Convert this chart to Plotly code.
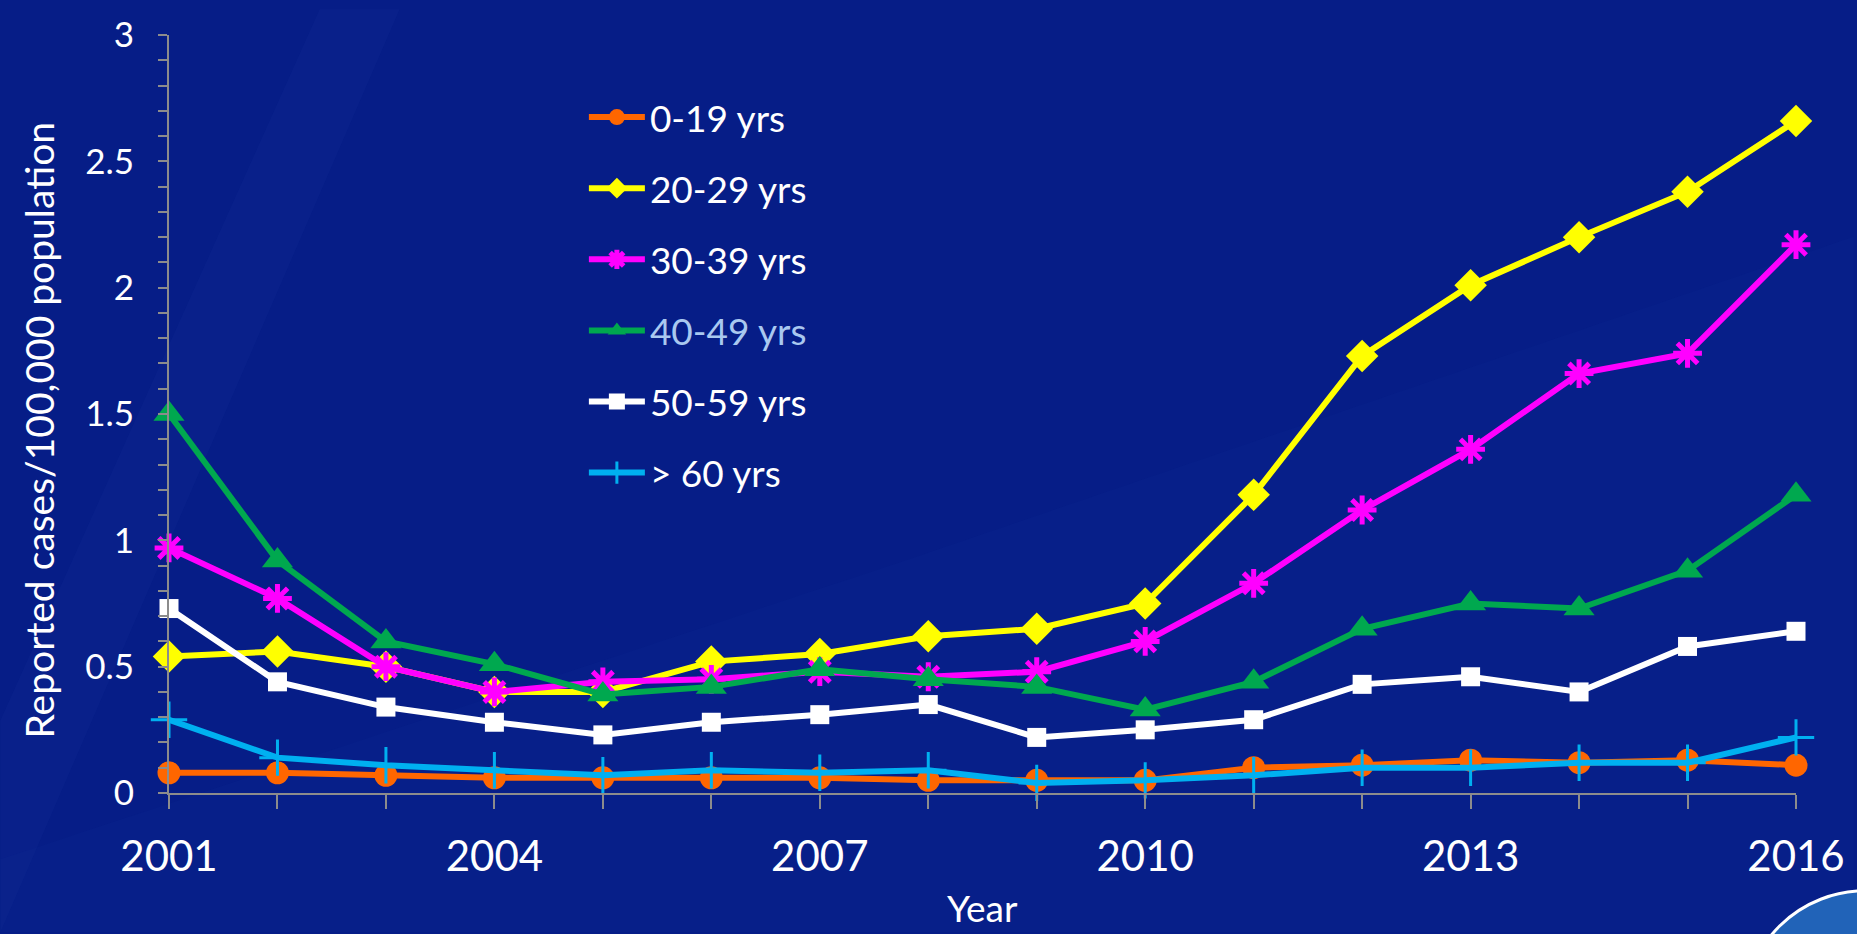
import plotly.graph_objects as go

years = list(range(2001, 2017))

age_0_19 = [0.08, 0.08, 0.07, 0.06, 0.06, 0.06, 0.06, 0.05, 0.05, 0.05, 0.10, 0.11, 0.13, 0.12, 0.13, 0.11]
age_20_29 = [0.54, 0.56, 0.50, 0.40, 0.40, 0.52, 0.55, 0.62, 0.65, 0.75, 1.18, 1.73, 2.01, 2.20, 2.38, 2.66]
age_30_39 = [0.97, 0.77, 0.50, 0.40, 0.44, 0.45, 0.48, 0.46, 0.48, 0.60, 0.83, 1.12, 1.36, 1.66, 1.74, 2.17]
age_40_49 = [1.50, 0.92, 0.60, 0.51, 0.39, 0.42, 0.49, 0.45, 0.42, 0.33, 0.44, 0.65, 0.75, 0.73, 0.88, 1.18]
age_50_59 = [0.73, 0.44, 0.34, 0.28, 0.23, 0.28, 0.31, 0.35, 0.22, 0.25, 0.29, 0.43, 0.46, 0.40, 0.58, 0.64]
age_60_up = [0.29, 0.14, 0.11, 0.09, 0.07, 0.09, 0.08, 0.09, 0.04, 0.05, 0.07, 0.10, 0.10, 0.12, 0.12, 0.22]

series_names = ["0-19 yrs", "20-29 yrs", "30-39 yrs",
                "<span style='color:#a9c8f0'>40-49 yrs</span>", "50-59 yrs", "> 60 yrs"]

FONT = "Lato"
W, H = 1857, 934
ML, MR, MT, MB = 169, 58, 26, 141
PW, PH = W - ML - MR, H - MT - MB

def px_x(x):
    return (x - ML) / PW

def px_y(y):
    return 1 - (y - MT) / PH

fig = go.Figure()

styles = [
    (age_0_19, "#ff6600", dict(symbol="circle", size=23, color="#ff6600")),
    (age_20_29, "#ffff00", dict(symbol="diamond", size=25, color="#ffff00")),
    (age_30_39, "#ff00ff", dict(symbol="asterisk-open", size=24, color="#ff00ff",
                                line=dict(color="#ff00ff", width=5))),
    (age_40_49, "#00a84f", dict(symbol="triangle-up", size=27, color="#00a84f")),
    (age_50_59, "#ffffff", dict(symbol="square", size=19, color="#ffffff")),
    (age_60_up, "#00b0f0", dict(symbol="cross-thin-open", size=26, color="#00b0f0",
                                line=dict(color="#00b0f0", width=3))),
]

for i, (vals, col, mk) in enumerate(styles):
    fig.add_trace(go.Scatter(
        x=years, y=vals, name=series_names[i], mode="lines+markers",
        line=dict(color=col, width=6), marker=mk, cliponaxis=False,
        legendgroup=f"g{i}",
    ))

# very subtle diagonal lighter streaks in the background (decoration)
def band(pts, fc):
    path = "M " + " L ".join(f"{px_x(x)} {px_y(y)}" for x, y in pts) + " Z"
    fig.add_shape(type="path", xref="paper", yref="paper", path=path,
                  fillcolor=fc, line=dict(width=0), layer="below")

band([(0, 720), (320, 0), (400, 0), (0, 934)], "rgba(60,90,190,0.07)")
band([(0, 934), (0, 860), (900, 560), (1857, 230), (1857, 934)], "rgba(40,70,180,0.05)")

fig.update_layout(
    width=W, height=H,
    margin=dict(l=ML, r=MR, t=MT, b=MB),
    paper_bgcolor="#061d87",
    plot_bgcolor="rgba(0,0,0,0)",
    font=dict(family=FONT, color="white", size=36),
    showlegend=True,
    legend=dict(
        x=0.255, y=0.932, xanchor="left", yanchor="top",
        bgcolor="rgba(0,0,0,0)", font=dict(family=FONT, size=37, color="white"),
        tracegroupgap=20, itemwidth=56, traceorder="grouped",
    ),
    xaxis=dict(
        range=[2001, 2016], tick0=2001, dtick=3, showgrid=False, zeroline=False,
        showline=True, linecolor="#8c8c8c", linewidth=2,
        ticks="outside", ticklen=14, tickwidth=2, tickcolor="#8c8c8c",
        ticklabelstandoff=12,
        tickfont=dict(family=FONT, size=42, color="white"),
        minor=dict(dtick=1, tick0=2001, ticks="outside", ticklen=14, tickwidth=2, tickcolor="#8c8c8c"),
    ),
    yaxis=dict(
        range=[0, 3], dtick=0.5, showgrid=False, zeroline=False,
        showline=True, linecolor="#8c8c8c", linewidth=2,
        ticks="outside", ticklen=9, tickwidth=2, tickcolor="#8c8c8c",
        ticklabelstandoff=17,
        tickfont=dict(family=FONT, size=35, color="white"),
        minor=dict(dtick=0.1, ticks="outside", ticklen=9, tickwidth=2, tickcolor="#8c8c8c"),
    ),
    annotations=[
        dict(text="Reported cases/100,000 population", textangle=-90,
             xref="paper", yref="paper", x=px_x(39), y=px_y(426),
             xanchor="center", yanchor="middle", showarrow=False,
             font=dict(family=FONT, size=39, color="white")),
        dict(text="Year", xref="paper", yref="paper", x=px_x(984), y=px_y(934),
             xanchor="center", yanchor="bottom", showarrow=False,
             font=dict(family=FONT, size=37, color="white")),
    ],
)

# partial seal logo, bottom right
fig.add_shape(type="circle", xref="paper", yref="paper",
              x0=px_x(1747), x1=px_x(1990), y0=px_y(1135), y1=px_y(892),
              fillcolor="#2163b8", line=dict(color="white", width=3), layer="above")

fig.write_html("out.html")
